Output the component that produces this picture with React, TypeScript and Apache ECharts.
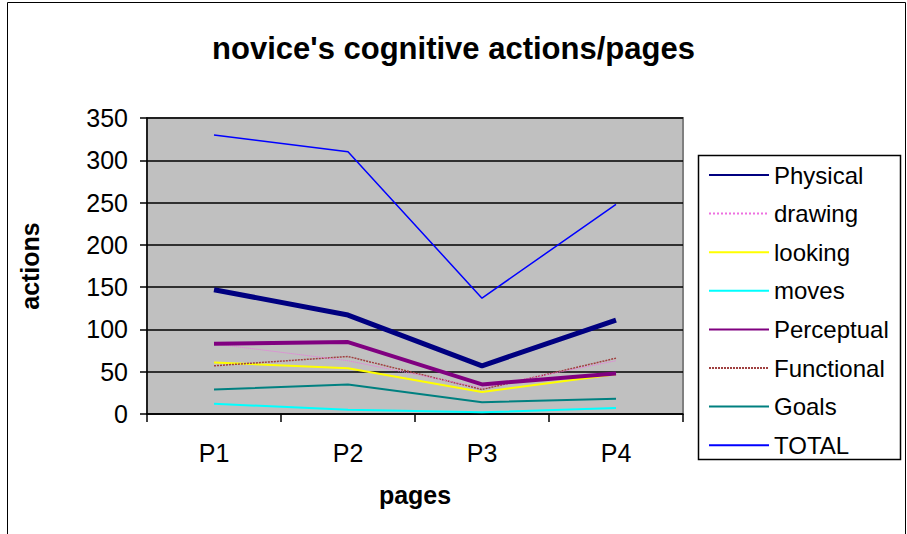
import React, { useEffect, useRef } from "react";
import * as echarts from "echarts";

const categories = ["P1", "P2", "P3", "P4"];
const seriesNames = ["Physical", "drawing", "looking", "moves", "Perceptual", "Functional", "Goals", "TOTAL"];
const physical = [147, 117, 57, 111];
const drawing = [83, 63, 31, 63];
const looking = [61, 54, 26, 47];
const moves = [12, 5, 2, 7];
const perceptual = [83, 85, 35, 48];
const functional = [57, 68, 29, 66];
const goals = [29, 35, 14, 18];
const total = [330, 310, 137, 248];
const yTicks = { min: 0, max: 350, interval: 50 };

const FONT = "'Liberation Sans', Arial, sans-serif";

export default function App() {
  const ref = useRef<HTMLDivElement>(null);
  useEffect(() => {
    if (!ref.current) return;
    const chart = echarts.init(ref.current, null, { renderer: "svg" });
    const styles = [
      { color: "#000080", width: 5, type: "solid" },
      { color: "#ee70e0", width: 1, type: "dotted" },
      { color: "#ffff00", width: 2, type: "solid" },
      { color: "#00ffff", width: 2, type: "solid" },
      { color: "#800080", width: 4, type: "solid" },
      { color: "#a04040", width: 1.5, type: [2, 1] },
      { color: "#008080", width: 2, type: "solid" },
      { color: "#0000ff", width: 1.5, type: "solid" },
    ];
    const data = [physical, drawing, looking, moves, perceptual, functional, goals, total];
    const order = [7, 3, 6, 2, 5, 1, 4, 0];
    const series = order.map((i, k) => ({
      name: seriesNames[i],
      type: "line",
      data: data[i],
      symbol: "none",
      z: 2 + k * 0.01,
      lineStyle: { color: styles[i].color, width: styles[i].width, type: styles[i].type as any },
      itemStyle: { color: styles[i].color },
    }));
    chart.setOption({
      animation: false,
      backgroundColor: "#ffffff",
      textStyle: { fontFamily: FONT },
      title: {
        text: "novice's cognitive actions/pages",
        left: "center",
        top: 28,
        textStyle: { fontSize: 31, fontWeight: "bold", color: "#000", fontFamily: FONT },
      },
      graphic: [
        {
          type: "rect",
          shape: { x: 7.5, y: 2.5, width: 898, height: 560 },
          style: { fill: "none", stroke: "#000", lineWidth: 1 },
          silent: true,
          z: -1,
        },
        {
          type: "rect",
          shape: { x: 698.5, y: 155.5, width: 202, height: 304 },
          style: { fill: "#fff", stroke: "#000", lineWidth: 1.5 },
          silent: true,
          z: 0,
        },
      ],
      legend: {
        orient: "vertical",
        left: 698,
        top: 155,
        padding: [8, 10, 10, 10],
        itemWidth: 60,
        itemHeight: 14,
        itemGap: 14.6,
        data: seriesNames,
        itemStyle: { opacity: 0 },
        textStyle: { fontSize: 24, color: "#000", fontFamily: FONT, lineHeight: 24 },
        z: 5,
      },
      grid: {
        left: 147,
        top: 118,
        right: 224,
        bottom: 120,
        show: true,
        backgroundColor: "#c0c0c0",
        borderColor: "#808080",
        borderWidth: 2,
      },
      xAxis: {
        type: "category",
        data: categories,
        boundaryGap: true,
        name: "pages",
        nameLocation: "middle",
        nameGap: 68,
        nameTextStyle: { fontSize: 25, fontWeight: "bold", color: "#000", fontFamily: FONT },
        axisLine: { lineStyle: { color: "#000", width: 1.5 } },
        axisTick: { show: true, length: 8, lineStyle: { color: "#000", width: 1.5 } },
        axisLabel: { fontSize: 25, color: "#000", margin: 26, fontFamily: FONT },
        splitLine: { show: false },
      },
      yAxis: {
        type: "value",
        min: yTicks.min,
        max: yTicks.max,
        interval: yTicks.interval,
        name: "actions",
        nameLocation: "middle",
        nameGap: 105,
        nameTextStyle: { fontSize: 25, fontWeight: "bold", color: "#000", fontFamily: FONT },
        axisLine: { show: true, lineStyle: { color: "#000", width: 1.5 } },
        axisTick: { show: true, length: 7, lineStyle: { color: "#000", width: 1.5 } },
        axisLabel: { fontSize: 25, color: "#000", margin: 19, fontFamily: FONT },
        splitLine: { show: true, lineStyle: { color: "#000", width: 1.5 } },
      },
      series,
    });
    return () => chart.dispose();
  }, []);
  return (
    <div
      ref={ref}
      style={{ position: "fixed", left: 0, top: 0, width: 907, height: 534 }}
    />
  );
}
